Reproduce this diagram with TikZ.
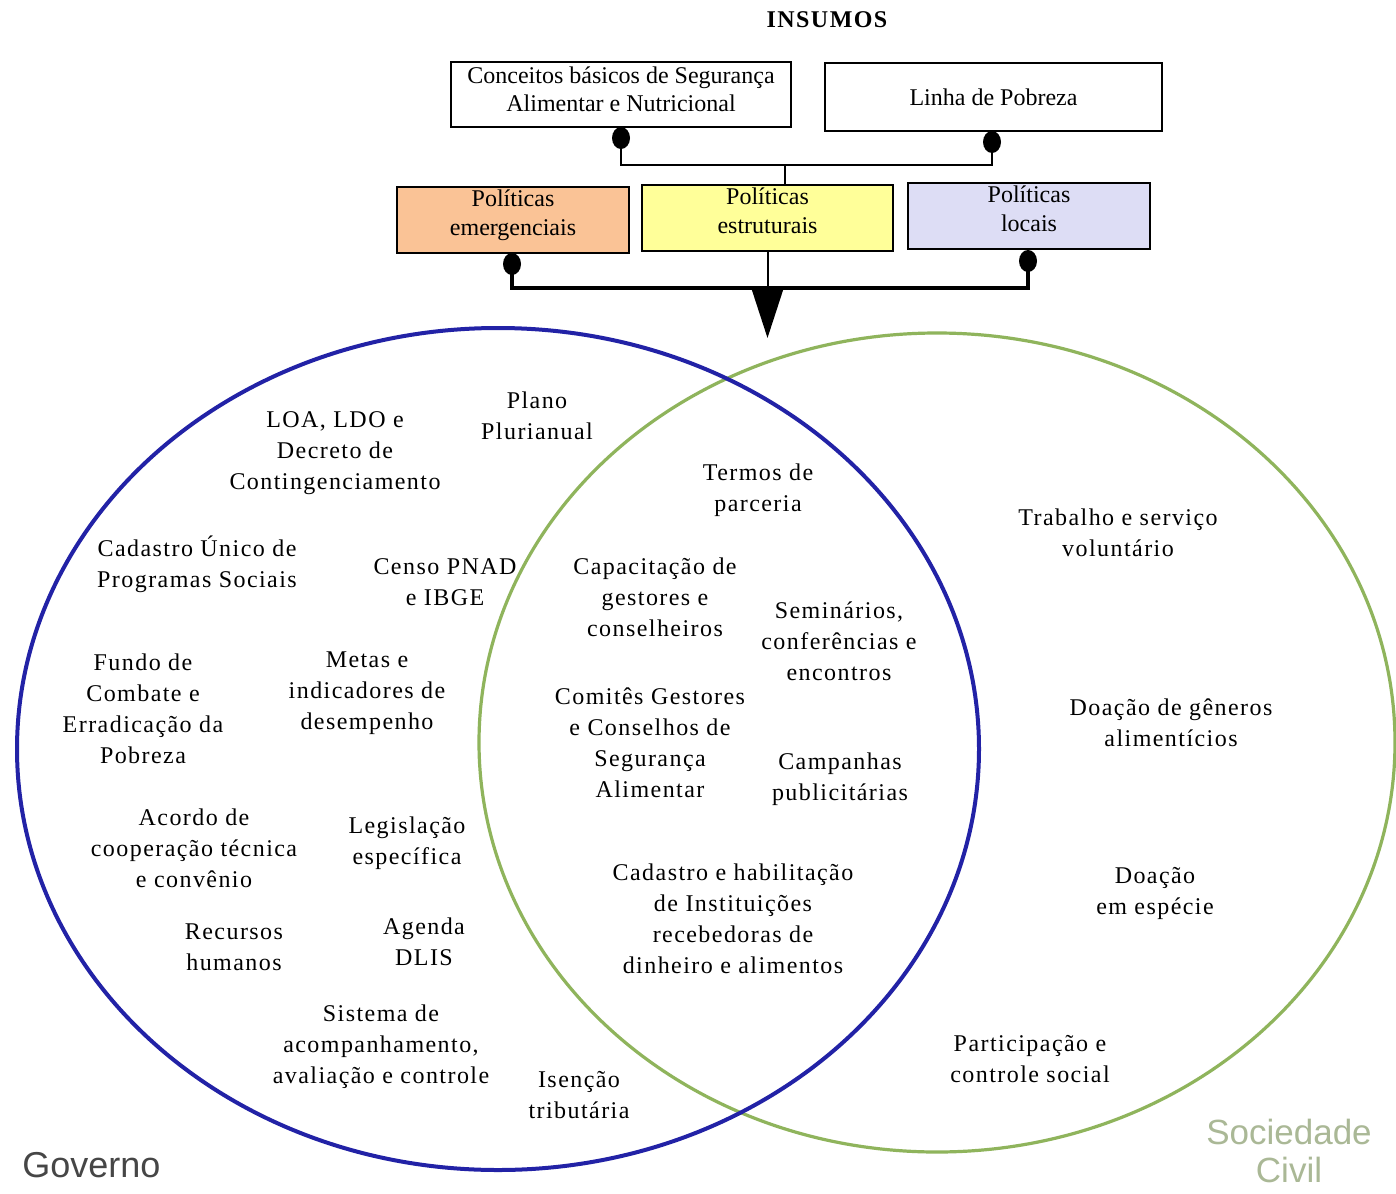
\documentclass[tikz,border=0pt]{standalone}
\usepackage{fontspec}
\setmainfont{Liberation Serif}
\newfontfamily\sansf{Liberation Sans}
\newfontfamily\spaced[LetterSpace=6]{Liberation Serif}
\usetikzlibrary{shapes.geometric,arrows.meta}
\definecolor{govblue}{RGB}{34,34,166}
\definecolor{socgreen}{RGB}{143,180,92}
\definecolor{peach}{RGB}{250,195,150}
\definecolor{lightyellow}{RGB}{255,255,153}
\definecolor{lavender}{RGB}{221,221,245}
\definecolor{socgray}{RGB}{170,184,150}
\definecolor{govgray}{RGB}{70,70,70}
\begin{document}
\begin{tikzpicture}[x=0.5pt,y=-0.5pt,
  lbl/.style={align=center, font=\spaced\fontsize{12}{15.5}\selectfont, inner sep=0pt},
  topbox/.style={draw, line width=1pt, inner sep=0pt, align=center, font=\fontsize{12}{14}\selectfont},
  polbox/.style={topbox, minimum height=33pt, text depth=7pt, font=\fontsize{12}{14.5}\selectfont},
  dotm/.style={ellipse, fill=black, minimum width=9pt, minimum height=11pt, inner sep=0pt},
  conn/.style={line width=1pt}]
\useasboundingbox (0,0) rectangle (1396,1193);
\fill[white] (0,0) rectangle (1396,1193);

% ellipses
\draw[socgreen, line width=1.6pt] (937,742.5) ellipse [x radius=229pt, y radius=204.75pt];
\draw[govblue, line width=2pt] (498,749) ellipse [x radius=240.5pt, y radius=210.5pt];

% title
\node[font=\bfseries\spaced\fontsize{12}{14}\selectfont] (insumos) at (827,20) {INSUMOS};

% top boxes
\node[topbox, minimum width=170pt, minimum height=32.5pt, text depth=5pt] (conc) at (621,94.5)
  {Conceitos básicos de Segurança\\Alimentar e Nutricional};
\node[topbox, minimum width=168.5pt, minimum height=34pt] (linha) at (993.5,97) {Linha de Pobreza};

\node[polbox, fill=peach, minimum width=116pt] (emerg) at (513,220) {Políticas\\emergenciais};
\node[polbox, fill=lightyellow, minimum width=125.5pt] (estr) at (767.5,218) {Políticas\\estruturais};
\node[polbox, fill=lavender, minimum width=121pt] (locais) at (1029,216) {Políticas\\locais};

% dots
\node[dotm] (d1) at (621,138) {};
\node[dotm] (d2) at (992,142) {};
\node[dotm] (d3) at (512,264) {};
\node[dotm] (d4) at (1028,261) {};

% connectors
\coordinate (j) at (785,165);
\draw[conn] (d1.center) |- (j) -| (d2.center);
\draw[conn] (j) -- (j |- estr.north);
\coordinate (k) at (767.5,288);
\coordinate (tip) at (767.5,338);
\draw[line width=2pt] (d3.center) |- (k) -| (d4.center);
\draw[conn, -{Triangle[width=16pt,length=25pt]}] (estr.south) -- (tip);

% Governo texts
\node[lbl] (plano) at (537,416) {Plano\\Plurianual};
\node[lbl] (loa) at (335,453.5) {LOA, LDO e\\Decreto de\\Contingenciamento};
\node[lbl] (cadu) at (197,564) {Cadastro Único de\\Programas Sociais};
\node[lbl] (censo) at (445,582) {Censo PNAD\\e IBGE};
\node[lbl] (fundo) at (143,708.5) {Fundo de\\Combate e\\Erradicação da\\Pobreza};
\node[lbl] (metas) at (367,693.5) {Metas e\\indicadores de\\desempenho};
\node[lbl] (acordo) at (194,848.5) {Acordo de\\cooperação técnica\\e convênio};
\node[lbl] (legis) at (407,843.5) {Legislação\\específica};
\node[lbl] (recursos) at (234,947) {Recursos\\humanos};
\node[lbl] (agenda) at (424,941.5) {Agenda\\DLIS};
\node[lbl] (sistema) at (381,1046.5) {Sistema de\\acompanhamento,\\avaliação e controle};
\node[lbl] (isencao) at (579,1095) {Isenção\\tributária};

% intersection texts
\node[lbl] (termos) at (758,490.5) {Termos de\\parceria};
\node[lbl] (capac) at (655,597.5) {Capacitação de\\gestores e\\conselheiros};
\node[lbl] (semin) at (839,641.5) {Seminários,\\conferências e\\encontros};
\node[lbl] (comites) at (650,743) {Comitês Gestores\\e Conselhos de\\Segurança\\Alimentar};
\node[lbl] (campan) at (840,779) {Campanhas\\publicitárias};
\node[lbl] (cadhab) at (733,919) {Cadastro e habilitação\\de Instituições\\recebedoras de\\dinheiro e alimentos};

% sociedade civil texts
\node[lbl] (trab) at (1118,532.5) {Trabalho e serviço\\voluntário};
\node[lbl] (doacg) at (1171,723) {Doação de gêneros\\alimentícios};
\node[lbl] (doace) at (1155,893) {Doação\\em espécie};
\node[lbl] (partic) at (1030,1059) {Participação e\\controle social};

% set labels
\node[anchor=west, inner sep=0pt, text=govgray, font=\sansf\fontsize{18}{20}\selectfont] (gov) at (22,1165) {Governo};
\node[align=center, inner sep=0pt, text=socgray, font=\sansf\fontsize{17.5}{19}\selectfont] (soc) at (1289,1151) {Sociedade\\Civil};
\end{tikzpicture}
\end{document}
